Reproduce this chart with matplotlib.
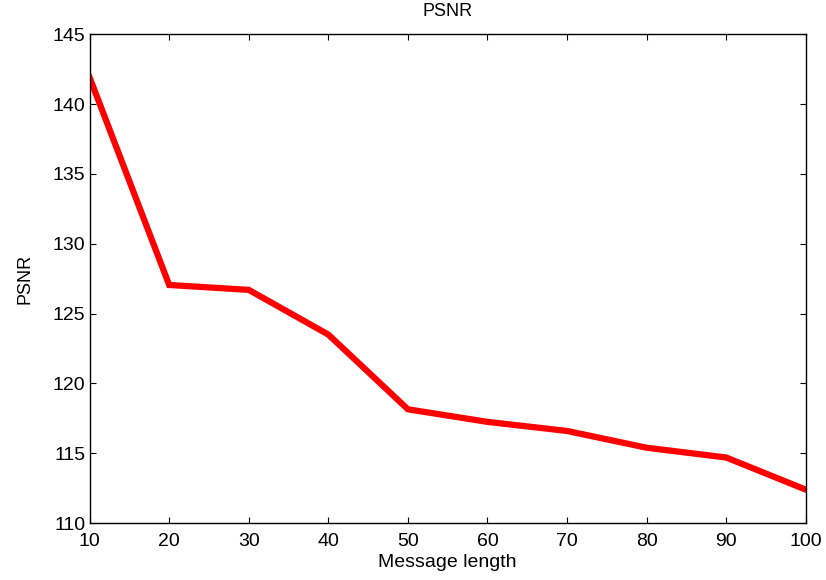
import numpy as np
import matplotlib.pyplot as plt

plt.rcParams['font.family'] = ['Liberation Sans', 'DejaVu Sans']

# message length vs PSNR
message_length = [10, 20, 30, 40, 50, 60, 70, 80, 90, 100]
psnr = [141.9, 127.05, 126.7, 123.5, 118.15, 117.25, 116.6, 115.4, 114.7, 112.4]

fig = plt.figure(figsize=(8.26, 5.8), dpi=100)
ax = fig.add_axes([0.1085, 0.098, 0.867, 0.843])
ax.plot(message_length, psnr, color='red', linewidth=4.5, solid_joinstyle='miter')
ax.set_xlim(10, 100)
ax.set_ylim(110, 145)
ax.set_xticks(np.arange(10, 101, 10))
ax.set_yticks(np.arange(110, 146, 5))
ax.tick_params(direction='in', top=True, right=True, labelsize=14, length=4, pad=3)
ax.tick_params(axis='x', pad=7)
for s in ax.spines.values():
    s.set_linewidth(1.0)
ax.set_xlabel('Message length', fontsize=14, labelpad=3)
ax.set_ylabel('PSNR', fontsize=13, labelpad=14)
ax.set_title('PSNR', fontsize=13, pad=13)
fig.savefig('out.png', dpi=100)
plt.close()
